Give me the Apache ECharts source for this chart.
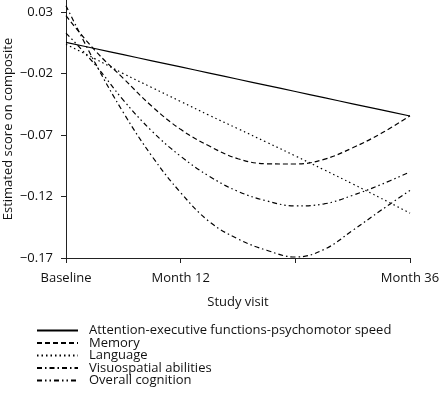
<!DOCTYPE html>
<html>
<head>
<meta charset="utf-8">
<script src="https://cdn.jsdelivr.net/npm/echarts@6/dist/echarts.min.js"></script>
<style>
html,body{margin:0;padding:0;background:#fff;}
#chart{width:441px;height:411px;}
</style>
</head>
<body>
<div id="chart"></div>
<script>
const months = [0, 3, 6, 9, 12, 15, 18, 21, 24, 27, 30, 33, 36];
const xTicks = [0, 12, 24, 36];
const xTickLabels = ['Baseline', 'Month 12', '', 'Month 36'];
const yTicks = [-0.17, -0.12, -0.07, -0.02, 0.03];
const yTickLabels = ['\u22120.17', '\u22120.12', '\u22120.07', '\u22120.02', '0.03'];

const attention = [0.0055, 0.0005, -0.0045, -0.0095, -0.0145, -0.0195, -0.0245, -0.0295, -0.0345, -0.0395, -0.0445, -0.0495, -0.0544];
const memory = [0.0272, -0.0008, -0.0238, -0.0466, -0.0653, -0.0789, -0.0892, -0.0933, -0.0935, -0.0897, -0.0803, -0.0685, -0.0543];
const language = [0.0039, -0.0077, -0.0199, -0.0313, -0.0426, -0.0539, -0.0648, -0.0758, -0.0869, -0.0982, -0.1097, -0.1215, -0.1335];
const visuospatial = [0.0354, -0.0105, -0.0516, -0.0872, -0.1168, -0.1404, -0.1545, -0.1637, -0.1692, -0.1631, -0.1475, -0.1310, -0.1150];
const overall = [0.0131, -0.0122, -0.0415, -0.0668, -0.0872, -0.1035, -0.1158, -0.1235, -0.1276, -0.1260, -0.1190, -0.1101, -0.1000];

const names = ['Attention-executive functions-psychomotor speed', 'Memory', 'Language', 'Visuospatial abilities', 'Overall cognition'];
const values = [attention, memory, language, visuospatial, overall];
const dashes = ['solid', [5, 3], [1.5, 3], [5, 3, 1.5, 3], [5, 3, 1.5, 3, 1.5, 3]];

const FONT = 'Open Sans';
const chart = echarts.init(document.getElementById('chart'), null, {renderer: 'canvas'});

chart.setOption({
  animation: false,
  backgroundColor: '#fff',
  textStyle: {fontFamily: FONT},
  grid: {left: 66, right: 31, top: 0, bottom: 153, containLabel: false, outerBoundsMode: 'none'},
  legend: {
    orient: 'vertical',
    left: 31,
    top: 319,
    itemWidth: 41,
    itemHeight: 12,
    itemGap: -0.5,
    itemStyle: {color: 'transparent', borderColor: 'transparent', borderWidth: 0, opacity: 0},
    textStyle: {fontFamily: FONT, fontSize: 13, color: '#111', lineHeight: 12, padding: [0, 0, 0, 6]},
    data: names
  },
  xAxis: {
    type: 'value',
    min: 0,
    max: 36,
    interval: 12,
    name: 'Study visit',
    nameLocation: 'middle',
    nameGap: 38,
    nameMoveOverlap: false,
    nameTextStyle: {fontFamily: FONT, fontSize: 13, color: '#111'},
    axisLine: {onZero: false, lineStyle: {color: '#222', width: 1}},
    axisTick: {length: 5, lineStyle: {color: '#222'}},
    splitLine: {show: false},
    axisLabel: {
      margin: 14,
      fontFamily: FONT, fontSize: 13, color: '#111',
      formatter: v => { const i = xTicks.indexOf(v); return i >= 0 ? xTickLabels[i] : ''; }
    }
  },
  yAxis: {
    type: 'value',
    min: -0.17,
    max: 0.04,
    name: 'Estimated score on composite',
    nameLocation: 'middle',
    nameGap: 51,
    nameMoveOverlap: false,
    nameTextStyle: {fontFamily: FONT, fontSize: 13, color: '#111'},
    axisLine: {show: true, onZero: false, lineStyle: {color: '#222', width: 1}},
    axisTick: {show: true, length: 5, lineStyle: {color: '#222'}, customValues: yTicks},
    splitLine: {show: false},
    axisLabel: {
      margin: 13,
      fontFamily: FONT, fontSize: 13, color: '#111',
      customValues: yTicks,
      formatter: v => {
        const n = Number(v);
        for (let i = 0; i < yTicks.length; i++) if (Math.abs(yTicks[i] - n) < 1e-6) return yTickLabels[i];
        return '';
      }
    }
  },
  series: names.map((n, k) => ({
    name: n,
    type: 'line',
    symbol: 'none',
    smooth: 0.4,
    clip: false,
    data: months.map((m, i) => [m, values[k][i]]),
    lineStyle: {color: '#000', width: 1.2, type: dashes[k]},
    itemStyle: {color: '#000'}
  }))
});
</script>
</body>
</html>
